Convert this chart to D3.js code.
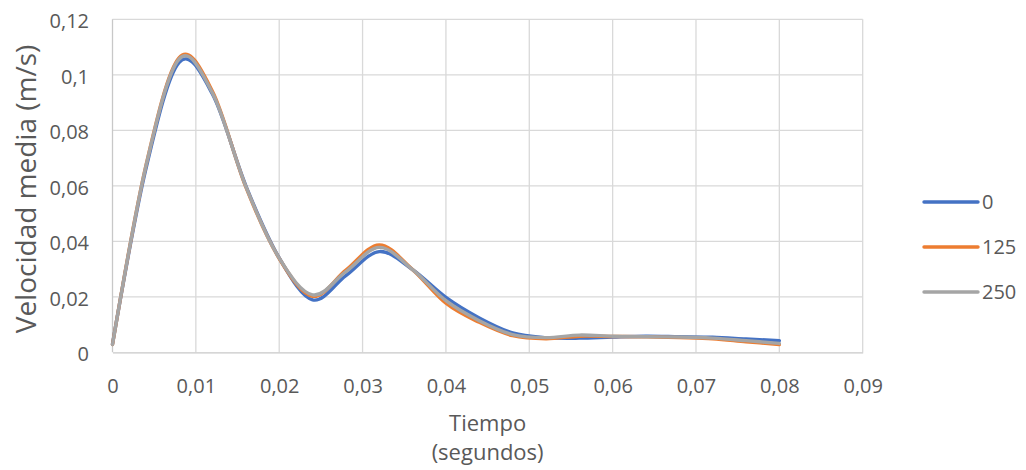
<!DOCTYPE html>
<html>
<head>
<meta charset="utf-8">
<script src="https://cdn.jsdelivr.net/npm/d3@7"></script>
<style>
  html, body { margin: 0; padding: 0; background: #ffffff; }
  svg { display: block; }
  text { font-family: "Open Sans", "Liberation Sans", sans-serif; fill: #595959; }
</style>
</head>
<body>
<svg id="chart" width="1026" height="470"></svg>
<script>
// ---- data ----
const time = [0, 0.004, 0.008, 0.012, 0.016, 0.020, 0.024, 0.028, 0.032, 0.036, 0.040,
              0.044, 0.048, 0.052, 0.056, 0.060, 0.064, 0.068, 0.072, 0.076, 0.080];
const serie0   = [0.0030, 0.0660, 0.1045, 0.0930, 0.0600, 0.0340, 0.0189, 0.0276, 0.0363, 0.0298, 0.0198,
                  0.0124, 0.0070, 0.0053, 0.0051, 0.0055, 0.0058, 0.0056, 0.0054, 0.0048, 0.0042];
const serie125 = [0.0028, 0.0672, 0.1062, 0.0940, 0.0595, 0.0338, 0.0202, 0.0296, 0.0387, 0.0298, 0.0177,
                  0.0108, 0.0060, 0.0049, 0.0058, 0.0057, 0.0056, 0.0053, 0.0049, 0.0038, 0.0028];
const serie250 = [0.0028, 0.0670, 0.1057, 0.0934, 0.0597, 0.0339, 0.0207, 0.0291, 0.0378, 0.0298, 0.0186,
                  0.0114, 0.0064, 0.0053, 0.0062, 0.0058, 0.0056, 0.0055, 0.0051, 0.0042, 0.0032];
const seriesNames = ["0", "125", "250"];
const seriesColors = ["#4472C4", "#ED7D31", "#A5A5A5"];
const xTicks = [0, 0.01, 0.02, 0.03, 0.04, 0.05, 0.06, 0.07, 0.08, 0.09];
const yTicks = [0, 0.02, 0.04, 0.06, 0.08, 0.1, 0.12];
const xTitle = ["Tiempo", "(segundos)"];
const yTitle = "Velocidad media (m/s)";

const seriesData = [serie0, serie125, serie250];

const svg = d3.select("#chart");
const pLeft = 112.5, pRight = 862.7, pTop = 19.3, pBottom = 352.3;

const x = d3.scaleLinear().domain([0, 0.09]).range([pLeft, pRight]);
const y = d3.scaleLinear().domain([0, 0.12]).range([pBottom, pTop]);

const loc = d3.formatLocale({decimal: ",", thousands: ".", grouping: [3], currency: ["", "€"]});
const fmt = loc.format(".2~f");

// gridlines
const grid = svg.append("g");
grid.selectAll("line.h").data(yTicks.filter(d => d > 0)).join("line")
  .attr("x1", pLeft).attr("x2", pRight)
  .attr("y1", d => y(d)).attr("y2", d => y(d))
  .attr("stroke", "#d9d9d9").attr("stroke-width", 1.3);
grid.selectAll("line.v").data(xTicks).join("line")
  .attr("x1", d => x(d)).attr("x2", d => x(d))
  .attr("y1", pTop).attr("y2", pBottom)
  .attr("stroke", d => d === 0 ? "#c8c8c8" : "#d9d9d9").attr("stroke-width", 1.3);

// axes
const xAxis = svg.append("g").attr("transform", `translate(0,${pBottom})`)
  .call(d3.axisBottom(x).tickValues(xTicks).tickFormat(fmt).tickSize(0));
xAxis.select(".domain").attr("stroke", "#c8c8c8").attr("stroke-width", 1.3);
xAxis.selectAll("text").attr("y", 40.7).attr("dy", 0)
  .style("font-size", "20px").style("fill", "#595959").style("font-family", "'Open Sans'");

const yAxis = svg.append("g").attr("transform", `translate(${pLeft},0)`)
  .call(d3.axisLeft(y).tickValues(yTicks).tickFormat(fmt).tickSize(0).tickPadding(23.5));
yAxis.select(".domain").remove();
yAxis.selectAll("text").attr("dy", "0.42em")
  .style("font-size", "20px").style("fill", "#595959").style("font-family", "'Open Sans'");

// lines
const line = d3.line().x((d, i) => x(time[i])).y(d => y(d)).curve(d3.curveCardinal.tension(0));
svg.append("g").selectAll("path").data(seriesData).join("path")
  .attr("d", d => line(d))
  .attr("fill", "none")
  .attr("stroke", (d, i) => seriesColors[i])
  .attr("stroke-width", 3.4)
  .attr("stroke-linecap", "round")
  .attr("stroke-linejoin", "round");

// titles
svg.append("text").attr("transform", "translate(35.5,189) rotate(-90)")
  .attr("text-anchor", "middle").style("font-size", "28px").text(yTitle);
svg.append("text").attr("x", (pLeft + pRight) / 2).attr("y", 430.7)
  .attr("text-anchor", "middle").style("font-size", "22px").text(xTitle[0]);
svg.append("text").attr("x", (pLeft + pRight) / 2).attr("y", 460)
  .attr("text-anchor", "middle").style("font-size", "22px").text(xTitle[1]);

// legend
const legY = d3.scalePoint().domain(seriesNames).range([202, 292]);
const leg = svg.append("g").selectAll("g").data(seriesNames).join("g")
  .attr("transform", d => `translate(0,${legY(d)})`);
leg.append("line").attr("x1", 924).attr("x2", 978).attr("y1", 0).attr("y2", 0)
  .attr("stroke", (d, i) => seriesColors[i]).attr("stroke-width", 3.4).attr("stroke-linecap", "round");
leg.append("text").attr("x", 982).attr("dy", "0.36em").style("font-size", "20px").text(d => d);
</script>
</body>
</html>
